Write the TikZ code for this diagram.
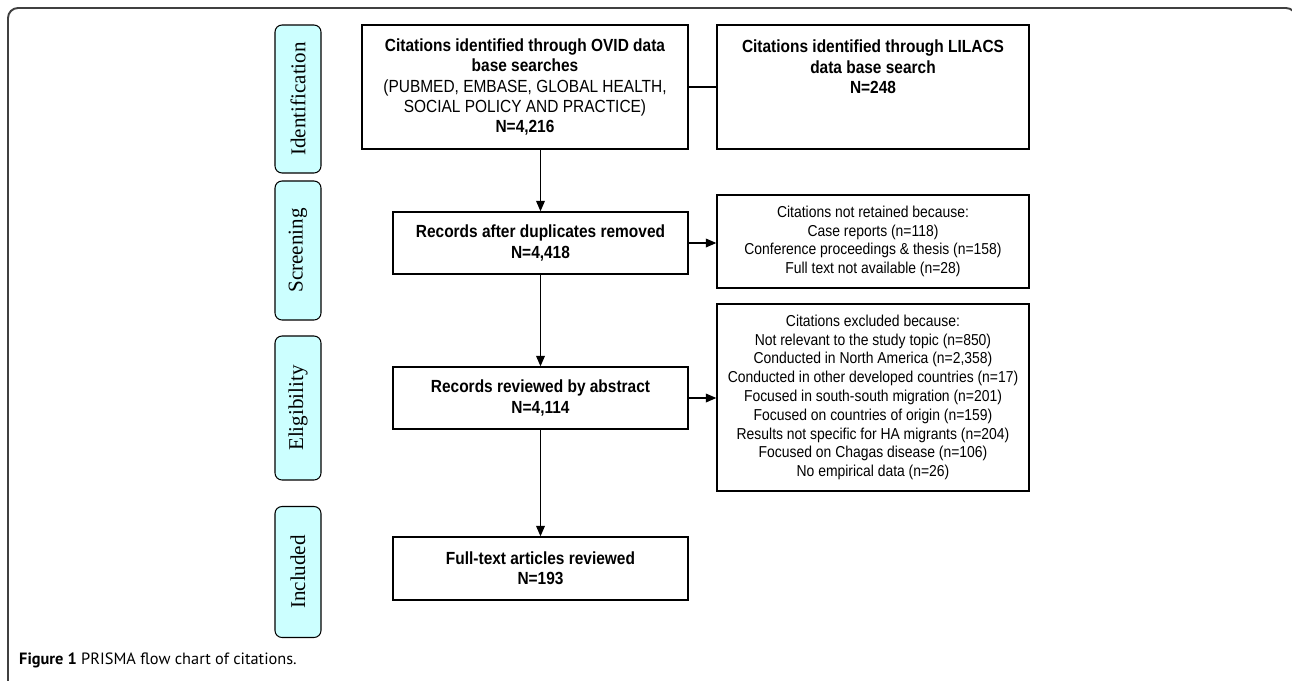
\documentclass[tikz,border=0pt]{standalone}
\usepackage{fontspec}
\setmainfont{Liberation Serif}
\newfontfamily\boxfont[FakeStretch=0.88]{Liberation Sans}
\newfontfamily\capfont{PT Sans}
\usetikzlibrary{arrows.meta}
\usetikzlibrary{positioning}
\definecolor{phasecyan}{HTML}{CCFFFF}

\begin{document}
\begin{tikzpicture}[
    x=0.02cm, y=-0.02cm,
    >={Triangle[length=6pt,width=5pt]},
    frame/.style={
        draw=black!75,
        line width=1.1pt,
        rounded corners=0.2cm,
        },
    phase/.style={
        rectangle,
        draw,
        fill=phasecyan,
        rounded corners=0.14cm,
        line width=0.6pt,
        rotate=90,
        minimum height=0.92cm,
        font=\fontsize{12}{14}\selectfont,
        },
    mainbox/.style={
        rectangle,
        draw,
        line width=0.8pt,
        minimum width=5.9cm,
        minimum height=1.24cm,
        align=center,
        inner sep=2pt,
        font=\boxfont\fontsize{10}{11.5}\selectfont\bfseries,
        },
    sidebox/.style={
        rectangle,
        draw,
        line width=0.8pt,
        minimum width=6.24cm,
        align=center,
        inner sep=2pt,
        font=\boxfont\fontsize{9}{10.7}\selectfont,
        },
    mylabel/.style={
        font=\capfont\fontsize{9.3}{11}\selectfont
        },
    ArrowC1/.style={
        line width=0.7pt,
        },
    ]

    \useasboundingbox (0,0) rectangle (1292,680);
    \draw [frame] (8,720) -- (8,8) -- (1296,8) -- (1296,720);

    % phases
    \node [phase, minimum width=2.96cm] (phase1) at (298,99) {Identification};
    \node [phase, minimum width=2.78cm] (phase2) at (298,250.5) {Screening};
    \node [phase, minimum width=2.88cm] (phase3) at (298,408) {Eligibility};
    \node [phase, minimum width=2.62cm] (phase4) at (298,572) {Included};

    % main column
    \node [mainbox, minimum width=6.52cm, minimum height=2.48cm] (ovid) at (525,87)
        {Citations identified through OVID data\\base searches\\{\mdseries (PUBMED, EMBASE, GLOBAL HEALTH,}\\{\mdseries SOCIAL POLICY AND PRACTICE)}\\N=4,216};
    \node [mainbox, minimum width=6.24cm, minimum height=2.48cm] (lilacs) at (873,87)
        {Citations identified through LILACS\\data base search\\N=248\\~\\~};
    \node [mainbox] (dup) at (540.5,243) {Records after duplicates removed\\N=4,418};
    \node [mainbox] (abstr) at (540.5,398) {Records reviewed by abstract\\N=4,114};
    \node [mainbox, minimum height=1.26cm] (full) at (540.5,568.5) {Full-text articles reviewed\\N=193};

    % side column
    \node [sidebox, minimum height=1.86cm] (notret) at (873,241.5)
        {Citations not retained because:\\Case reports (n=118)\\Conference proceedings \& thesis (n=158)\\Full text not available (n=28)};
    \node [sidebox, minimum height=3.74cm] (excl) at (873,397.5)
        {Citations excluded because:\\Not relevant to the study topic (n=850)\\Conducted in North America (n=2,358)\\Conducted in other developed countries (n=17)\\Focused in south-south migration (n=201)\\Focused on countries of origin (n=159)\\Results not specific for HA migrants (n=204)\\Focused on Chagas disease (n=106)\\No empirical data (n=26)};

    \node [mylabel, anchor=west] (caption) at (13,660) {\textbf{Figure 1} PRISMA flow chart of citations.};

    \draw [ArrowC1] (ovid) -- (lilacs);
    \draw [->, ArrowC1] (ovid.south -| dup.north) -- (dup.north);
    \draw [->, ArrowC1] (dup) -- (abstr);
    \draw [->, ArrowC1] (abstr) -- (full);
    \draw [->, ArrowC1] (dup.east) -- (dup.east -| notret.west);
    \draw [->, ArrowC1] (abstr.east) -- (abstr.east -| excl.west);

\end{tikzpicture}
\end{document}
